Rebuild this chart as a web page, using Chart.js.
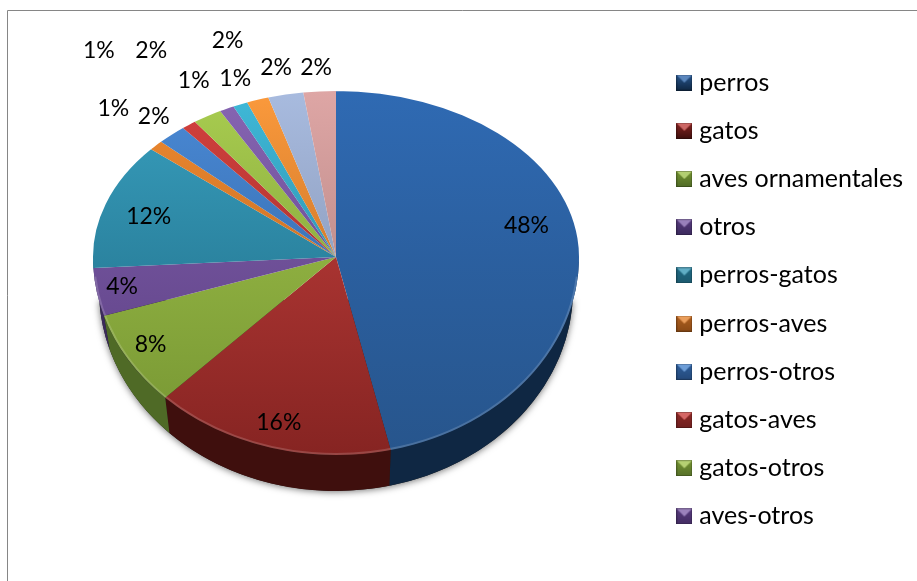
<!DOCTYPE html>
<html><head><meta charset="utf-8">
<style>html,body{margin:0;padding:0;background:#fff}canvas{display:block}</style>
<script src="https://cdn.jsdelivr.net/npm/chart.js@4"></script>
</head><body><canvas id="c" width="917" height="581"></canvas>
<script>
const categories = ["perros","gatos","aves ornamentales","otros","perros-gatos","perros-aves","perros-otros","gatos-aves","gatos-otros","aves-otros","perros-gatos-aves","perros-gatos-otros","perros-aves-otros","gatos-aves-otros"];
const values = [47.5,16.4,8,4,12.4,1,2,1,2,1,1,1.5,2.4,2.2];
const legendCount = 10;
const sliceTop = ["#2f6ab3","#cb4340","#a6c94e","#8464b0","#389fbe","#f08a30","#4a8ad6","#d5413e","#a9cd50","#8766b3","#3fb9d8","#fb9a3c","#a8bbdf","#dea6a5"];
const sliceBottom = ["#27558c","#862422","#759432","#593c80","#1f6a84","#b0601f","#2f5f9c","#8f2a28","#759432","#593c80","#267a95","#b0601f","#7c8aa8","#a87a78"];
const wallColor = ["#0f2743","#3f0f0d","#4f6a26","#3b2a5c","#1d5a6e","#8a4a16","#24497a","#6e1f1e","#56702a","#432d62","#1d5a6e","#8a4a16","#5f6c85","#86605f"];
const labelNudge = [[-51,-13],[9,-25.3],[22.3,-15],[25.3,-5.4],[43,13],[-42.6,-37],[-18,-18],[-90,-74],[-56,-66],[-33,-28],[-5,-26],[-30,-59],[-9.5,-26.6],[-3.5,-23.4]];
const fontFamily = "Lato";
const labelFontSize = 23;
const legendFontSize = 25;

/* projection of the round pie onto the tilted, perspective look */
const face = {x:336,y:257,rx:243,ryUp:166,ryDown:198};
const base = {x:336,y:290,rx:237,ry:201};

function marker(i){
  const s=16,c=document.createElement('canvas');c.width=s;c.height=s;
  const g=c.getContext('2d');
  const tri=(pts,col)=>{g.fillStyle=col;g.beginPath();pts.forEach((p,k)=>k?g.lineTo(p[0],p[1]):g.moveTo(p[0],p[1]));g.closePath();g.fill();};
  const lg=g.createLinearGradient(0,0,0,s);lg.addColorStop(0,sliceBottom[i]);lg.addColorStop(1,wallColor[i]);
  g.fillStyle=lg;g.fillRect(0,0,s,s);
  g.globalAlpha=.85;tri([[0,0],[s,0],[s/2,s/2]],sliceTop[i]);
  g.globalAlpha=1;g.fillStyle='rgba(255,255,255,.22)';g.beginPath();g.moveTo(0,0);g.lineTo(s,0);g.lineTo(s/2,s/2);g.closePath();g.fill();
  g.strokeStyle='rgba(0,0,0,.25)';g.strokeRect(.5,.5,s-1,s-1);
  return c;
}

const pie3d = {
  id:'pie3d',
  beforeDraw(chart){
    const c=chart.ctx;c.save();c.strokeStyle='#868686';c.lineWidth=1;c.beginPath();
    c.moveTo(7.5,581);c.lineTo(7.5,10.5);c.lineTo(917,10.5);c.stroke();c.restore();
  },
  beforeDatasetsDraw(chart){
    const c=chart.ctx, arcs=chart.getDatasetMeta(0).data;
    /* soft shadow */
    c.save();c.shadowColor='rgba(0,0,0,.55)';c.shadowBlur=7;c.shadowOffsetY=1;c.fillStyle='#222';
    c.beginPath();c.ellipse(base.x,base.y,base.rx,base.ry,0,0.05,Math.PI-0.05);c.closePath();c.fill();c.restore();
    /* walls */
    arcs.forEach((a,i)=>{
      const s=Math.max(a.startAngle,0), e=Math.min(a.endAngle,Math.PI);
      if(e<=s) return;
      c.beginPath();
      c.ellipse(face.x,face.y,face.rx,face.ryDown,0,s,e);
      c.ellipse(base.x,base.y,base.rx,base.ry,0,e,s,true);
      c.closePath();c.fillStyle=wallColor[i];c.fill();
    });
    /* top face: the library's arcs, drawn through two half projections */
    [[0,face.ryUp,face.y],[face.y,face.ryDown,581-face.y]].forEach(([top,ry,h])=>{
      c.save();c.beginPath();c.rect(0,top,917,h);c.clip();
      arcs.forEach(a=>{
        const R=a.outerRadius;
        c.save();c.translate(face.x,face.y);c.scale(face.rx/R,ry/R);c.translate(-a.x,-a.y);
        a.draw(c);c.restore();
      });
      c.restore();
    });
    /* light rim */
    c.save();c.strokeStyle='rgba(255,255,255,.16)';c.lineWidth=2;c.beginPath();
    c.ellipse(face.x,face.y,face.rx-1,face.ryDown-1,0,0.1,Math.PI-0.1);c.stroke();c.restore();
    /* labels */
    c.save();c.fillStyle='#000';c.font=labelFontSize+'px '+fontFamily;c.textAlign='center';c.textBaseline='middle';
    arcs.forEach((a,i)=>{
      const m=(a.startAngle+a.endAngle)/2, sn=Math.sin(m);
      const x=face.x+face.rx*Math.cos(m), y=face.y+(sn<0?face.ryUp:face.ryDown)*sn;
      c.fillText(Math.round(values[i])+'%',x+labelNudge[i][0],y+labelNudge[i][1]);
    });
    c.restore();
    return false;
  }
};

new Chart(document.getElementById('c'),{
  type:'pie',
  plugins:[pie3d],
  data:{labels:categories,datasets:[{
    data:values,
    borderWidth:0,
    backgroundColor(ctx){
      const area=ctx.chart.chartArea;
      if(!area||ctx.dataIndex===undefined) return sliceTop[ctx.dataIndex||0];
      const cy=(area.top+area.bottom)/2,R=Math.min(area.right-area.left,area.bottom-area.top)/2;
      const g=ctx.chart.ctx.createLinearGradient(0,cy-R,0,cy+R);
      g.addColorStop(0,sliceTop[ctx.dataIndex]);g.addColorStop(1,sliceBottom[ctx.dataIndex]);
      return g;
    }
  }]},
  options:{
    responsive:false,animation:false,
    layout:{padding:{top:18,left:0,right:4,bottom:0}},
    plugins:{
      tooltip:{enabled:false},
      legend:{display:true,position:'right',
        labels:{
          color:'#000',font:{family:fontFamily,size:legendFontSize},
          usePointStyle:true,boxWidth:5,boxHeight:16,padding:23.2,
          generateLabels(){return categories.slice(0,legendCount).map((t,i)=>({text:t,pointStyle:marker(i),fillStyle:sliceTop[i],strokeStyle:sliceTop[i],lineWidth:0,hidden:false,index:i,fontColor:'#000'}));}
        }
      }
    }
  }
});
</script></body></html>
